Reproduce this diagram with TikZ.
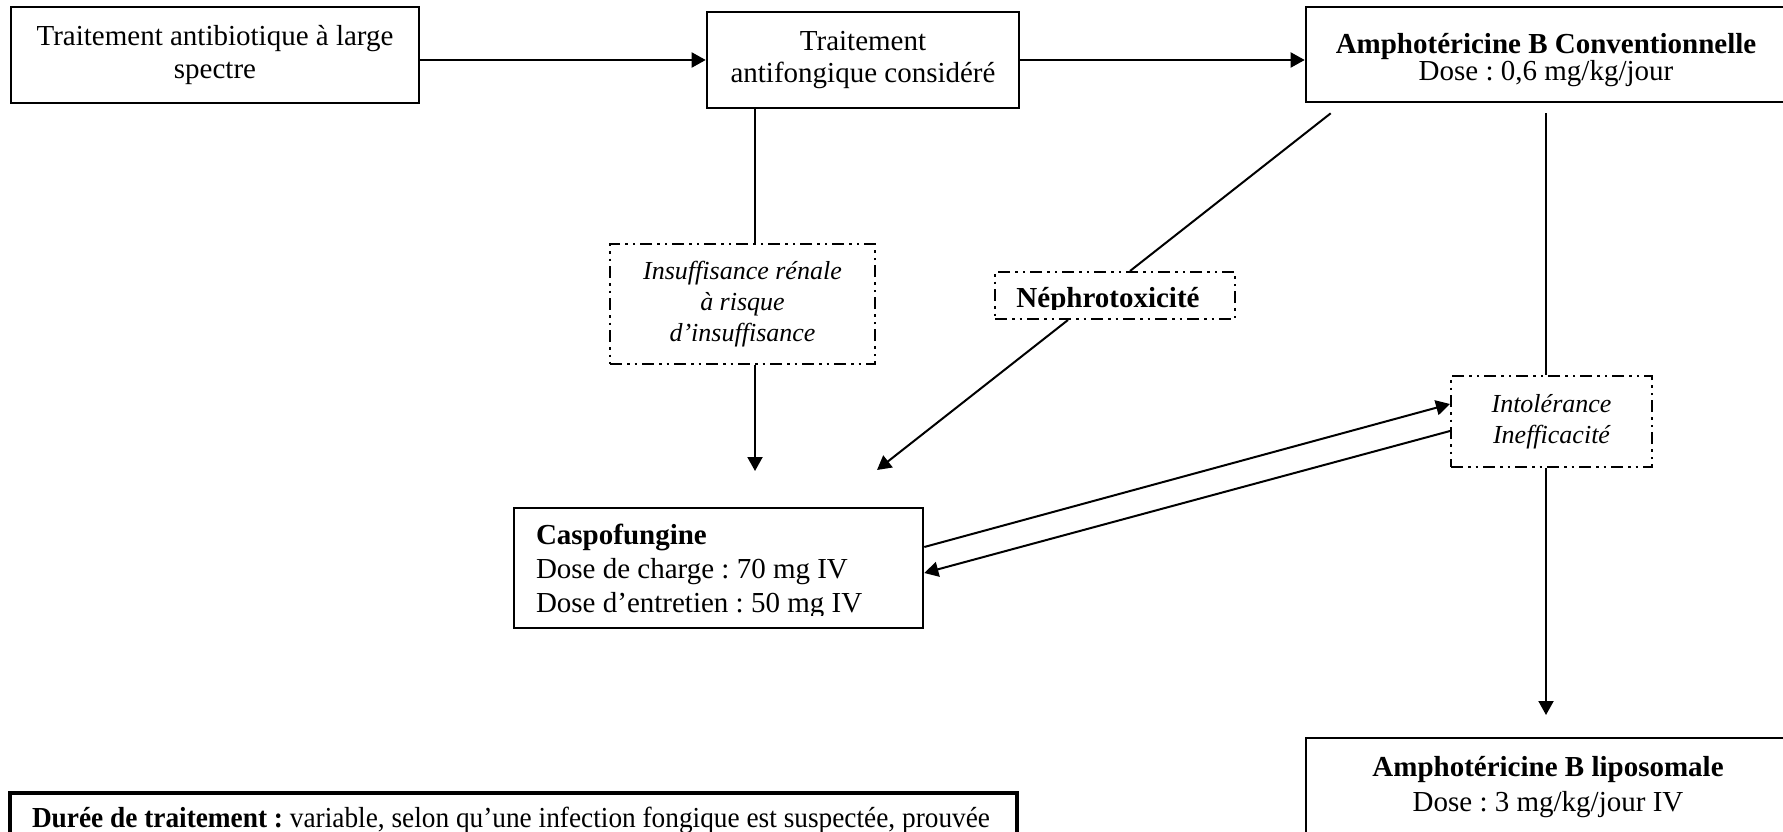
\documentclass[tikz,border=0pt]{standalone}
\usepackage{graphicx}
\usepackage{fontspec}
\setmainfont{Liberation Serif}
\usetikzlibrary{arrows.meta}
\frenchspacing

\begin{document}
\begin{tikzpicture}[x=1pt, y=-1pt,
			every node/.style={font=\fontsize{29}{33}\selectfont, align=center, inner sep=0pt},
			box/.style={draw, line width=2.6pt},
			dashbox/.style={draw, line width=2pt, dash pattern=on 12pt off 5pt on 2.5pt off 5pt on 2.5pt off 5pt, font=\fontsize{26}{31}\selectfont\itshape},
			link/.style={line width=2pt},
			arrow/.style={link, -{Triangle[length=14pt, width=15pt]}}
			]
			\path[use as bounding box, clip] (0,0) rectangle (1783,832);
			
			% Nodes
			\node[box, minimum width=408pt, minimum height=96pt] (antibio) at (215,55) {Traitement antibiotique à large\\spectre};
			\node[box, minimum width=312pt, minimum height=96pt, font=\fontsize{29}{32}\selectfont] (antifong) at (863,60) {Traitement\\antifongique considéré};
			\node[box, minimum width=480pt, minimum height=95pt, font=\fontsize{29}{27}\selectfont] (amph) at (1546,54.5) {\rule{0pt}{31pt}\textbf{Amphotéricine B Conventionnelle}\\Dose : 0,6 mg/kg/jour};
			\node[box, minimum width=409pt, minimum height=120pt, text width=365pt, inner xsep=22pt, align=left, font=\fontsize{29}{34}\selectfont] (caspo) at (718.5,568) {\spaceskip=0pt\xspaceskip=0pt\rule{0pt}{28pt}\textbf{Caspofungine}\\Dose de charge : 70 mg IV\\Dose d’entretien : 50 mg IV};
			\node[box, minimum width=484pt, minimum height=98pt, font=\fontsize{29}{35}\selectfont] (lipo) at (1548,787) {\textbf{Amphotéricine B liposomale}\\Dose : 3 mg/kg/jour IV};
			\node[box, line width=4pt, minimum width=1007pt, minimum height=55pt, text width=963pt, inner xsep=22pt, align=left] (duree) at (513.5,820.5) {\spaceskip=0pt\xspaceskip=0pt\scalebox{0.942}[1]{\textbf{Durée de traitement :} variable, selon qu’une infection fongique est suspectée, prouvée}};
			
			% Conditions
			\node[dashbox, minimum width=265pt, minimum height=120pt] (insuf) at (742.5,304) {Insuffisance rénale\\à risque\\d’insuffisance};
			\node[dashbox, minimum width=240pt, minimum height=47pt, font=\fontsize{29}{33}\selectfont\bfseries] (nephro) at (1115,295.5) {\rule{0pt}{31pt}Néphrotoxicité\hspace{14pt}};
			\node[dashbox, minimum width=201pt, minimum height=91pt] (intol) at (1551.5,421.5) {Intolérance\\Inefficacité};
			\fill[white] ([xshift=2pt,yshift=10pt]nephro.south west) rectangle ([xshift=-2pt,yshift=2pt]nephro.south east);
			\fill[white] ([xshift=3pt,yshift=13pt]caspo.south west) rectangle ([xshift=-3pt,yshift=2.5pt]caspo.south east);
			
			% Free ends
			\coordinate (caspoA) at (755,471);
			\coordinate (caspoB) at (877,470);
			\coordinate (lipoTop) at (1546,715);
			
			% Top row
			\draw[arrow] (antibio.east |- antifong.west) -- (antifong.west);
			\draw[arrow] (antifong.east) -- (antifong.east -| amph.west);
			
			% Towards Caspofungine
			\draw[link] ([xshift=12.5pt]insuf.north |- antifong.south) -- ([xshift=12.5pt]insuf.north);
			\draw[arrow] ([xshift=12.5pt]insuf.south) -- (caspoA);
			\draw[link] ([xshift=26pt,yshift=-10pt]amph.south west) -- ([xshift=15pt]nephro.north);
			\draw[arrow] ([xshift=-47pt]nephro.south) -- (caspoB);
			
			% Towards liposomal
			\draw[link] ([yshift=-10pt]amph.south) -- (amph.south |- intol.north);
			\draw[arrow] (amph.south |- intol.south) -- (lipoTop);
			
			% Between Caspofungine and intolerance
			\draw[arrow] ([yshift=21pt]caspo.east) -- ([yshift=17.5pt]intol.west);
			\draw[arrow] ([yshift=-9.5pt]intol.west) -- ([yshift=-5pt]caspo.east);
		\end{tikzpicture}
\end{document}
